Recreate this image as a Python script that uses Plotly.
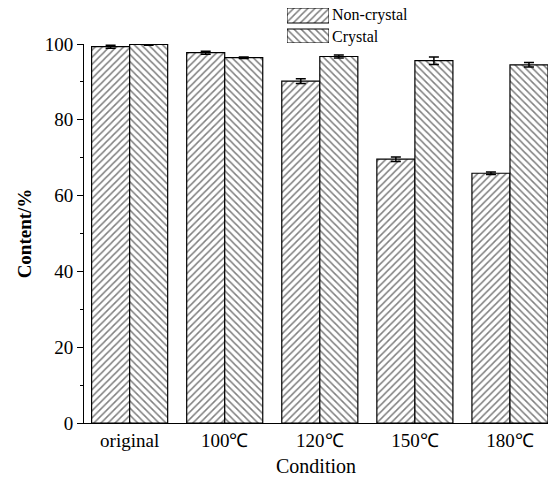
import plotly.graph_objects as go

categories = ["original", "100℃", "120℃", "150℃", "180℃"]
non_crystal = [99.3, 97.7, 90.2, 69.6, 65.9]
non_crystal_err = [0.4, 0.4, 0.6, 0.6, 0.3]
crystal = [99.9, 96.4, 96.7, 95.6, 94.5]
crystal_err = [0.2, 0.2, 0.4, 1.0, 0.6]
y_ticks = [0, 20, 40, 60, 80, 100]
series_names = ["Non-crystal", "Crystal"]

font = "Liberation Serif"
W, H = 550, 480
ML, MR, MT, MB = 84, 2, 0, 57
PW, PH = W - ML - MR, H - MT - MB

def py(pix):  # pixel y from top -> paper fraction
    return (H - MB - pix) / PH

def px(pix):
    return (pix - ML) / PW

def patt(shape):
    return dict(shape=shape, fgcolor="black", bgcolor="white", size=5, solidity=0.3)

fig = go.Figure()
fig.add_bar(
    x=categories, y=non_crystal, name=series_names[0],
    error_y=dict(type="data", array=non_crystal_err, color="black", thickness=1.5, width=5),
    marker=dict(color="white", line=dict(color="black", width=1.2), pattern=patt("/")),
)
fig.add_bar(
    x=categories, y=crystal, name=series_names[1],
    error_y=dict(type="data", array=crystal_err, color="black", thickness=1.5, width=5),
    marker=dict(color="white", line=dict(color="black", width=1.2), pattern=patt("\\")),
)

# legend swatches drawn on a small helper axis above the plot
fig.add_scatter(x=[0, 1, 1, 0, 0], y=[20, 20, 35, 35, 20], mode="lines", fill="toself",
                fillcolor="white", fillpattern=patt("/"), line=dict(color="black", width=1),
                xaxis="x2", yaxis="y2", hoverinfo="skip")
fig.add_scatter(x=[0, 1, 1, 0, 0], y=[0, 0, 14, 14, 0], mode="lines", fill="toself",
                fillcolor="white", fillpattern=patt("\\"), line=dict(color="black", width=1),
                xaxis="x2", yaxis="y2", hoverinfo="skip")
for name, ypix in zip(series_names, [15, 37]):
    fig.add_annotation(text=name, xref="paper", yref="paper", x=px(330), y=py(ypix),
                       xanchor="left", yanchor="middle", showarrow=False,
                       font=dict(family=font, size=16, color="black"))

fig.update_layout(
    width=W, height=H,
    margin=dict(l=ML, r=MR, t=MT, b=MB, autoexpand=False),
    paper_bgcolor="white", plot_bgcolor="white",
    barmode="group", bargap=0.2, bargroupgap=0,
    font=dict(family=font, size=15, color="black"),
    showlegend=False,
    xaxis=dict(
        range=[-0.48, 4.4], showline=True, linecolor="black", linewidth=1,
        ticks="", showgrid=False, zeroline=False, automargin=False,
        tickfont=dict(family=font, size=19),
        title=dict(text="Condition", font=dict(family=font, size=20), standoff=9),
    ),
    yaxis=dict(
        domain=[0, py(44)],
        range=[0, 100], showline=True, linecolor="black", linewidth=1,
        ticks="outside", ticklen=6, tickcolor="black", tickvals=y_ticks,
        minor=dict(ticks="outside", ticklen=3, tickcolor="black", dtick=10, showgrid=False),
        showgrid=False, zeroline=False, automargin=False,
        tickfont=dict(family=font, size=19),
        title=dict(text="<b>Content/%</b>", font=dict(family=font, size=19), standoff=8),
    ),
    xaxis2=dict(domain=[px(287), px(329)], range=[0, 1], visible=False, fixedrange=True),
    yaxis2=dict(domain=[py(43), py(8)], range=[0, 35], visible=False, fixedrange=True),
)

fig.write_html("out.html", config={"displayModeBar": False},
               post_script="document.body.style.margin='0';document.body.style.overflow='hidden';")
